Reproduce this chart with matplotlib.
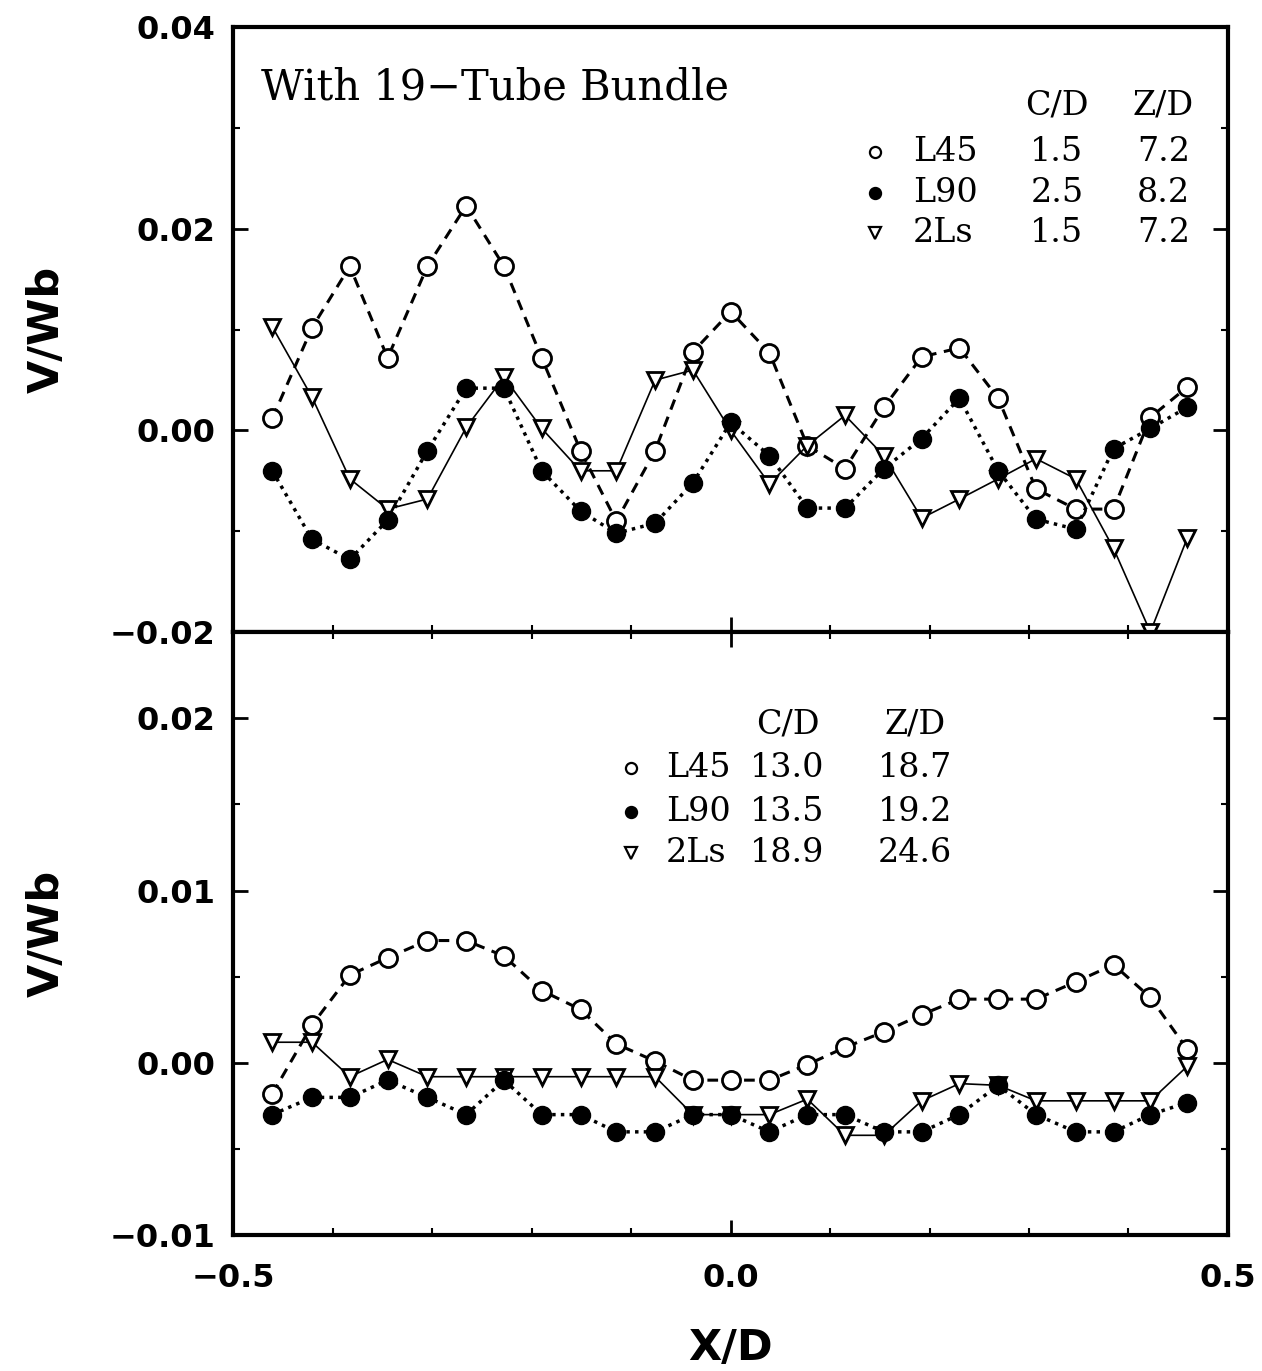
import matplotlib
matplotlib.use('Agg')
import matplotlib.pyplot as plt
from matplotlib.ticker import MultipleLocator, FuncFormatter

# x positions (X/D) shared by both panels
x_d = [-0.461, -0.421, -0.383, -0.345, -0.305, -0.266, -0.228, -0.19, -0.151, -0.115,
       -0.076, -0.038, 0.0, 0.039, 0.077, 0.115, 0.154, 0.192, 0.230, 0.269,
       0.307, 0.347, 0.385, 0.422, 0.459]

# top panel: with 19-tube bundle
l45_top = [0.0012, 0.0102, 0.0163, 0.0072, 0.0163, 0.0223, 0.0163, 0.0072, -0.002, -0.009,
           -0.002, 0.0078, 0.0118, 0.0077, -0.0015, -0.0038, 0.0023, 0.0073, 0.0082, 0.0032,
           -0.0058, -0.0078, -0.0078, 0.0013, 0.0043]
l90_top = [-0.004, -0.0108, -0.0128, -0.0089, -0.002, 0.0042, 0.0042, -0.004, -0.008, -0.0102,
           -0.0092, -0.0052, 0.0008, -0.0025, -0.0077, -0.0077, -0.0038, -0.0008, 0.0032, -0.004,
           -0.0088, -0.0098, -0.0018, 0.0002, 0.0023]
tls_top = [0.0103, 0.0033, -0.0048, -0.0078, -0.0068, 0.0003, 0.0053, 0.0002, -0.004, -0.004,
           0.005, 0.006, 0.0, -0.0053, -0.0015, 0.0015, -0.0025, -0.0087, -0.0068, -0.0048,
           -0.0028, -0.0048, -0.0117, -0.020, -0.0107]

# bottom panel
l45_bot = [-0.0018, 0.0022, 0.0051, 0.0061, 0.0071, 0.0071, 0.0062, 0.0042, 0.0031, 0.0011,
           0.0001, -0.001, -0.001, -0.001, -0.0001, 0.0009, 0.0018, 0.0028, 0.0037, 0.0037,
           0.0037, 0.0047, 0.0057, 0.0038, 0.0008]
l90_bot = [-0.003, -0.002, -0.002, -0.001, -0.002, -0.003, -0.001, -0.003, -0.003, -0.004,
           -0.004, -0.003, -0.003, -0.004, -0.003, -0.003, -0.004, -0.004, -0.003, -0.0013,
           -0.003, -0.004, -0.004, -0.003, -0.0023]
tls_bot = [0.0012, 0.0012, -0.0008, 0.0002, -0.0008, -0.0008, -0.0008, -0.0008, -0.0008, -0.0008,
           -0.0008, -0.003, -0.003, -0.003, -0.0021, -0.0042, -0.0042, -0.0022, -0.0012, -0.0013,
           -0.0022, -0.0022, -0.0022, -0.0022, -0.0002]

series_names = ['L45', 'L90', '2Ls']
cd_top = ['1.5', '2.5', '1.5']
zd_top = ['7.2', '8.2', '7.2']
cd_bot = ['13.0', '13.5', '18.9']
zd_bot = ['18.7', '19.2', '24.6']

serif = 'DejaVu Serif'
tick_font = dict(family='DejaVu Sans', weight='bold', size=23)
leg_size = 24


def fmt_with_minus(fmt):
    # long minus like the original plot labels
    return FuncFormatter(lambda v, pos: (fmt % v).replace('-', '\u2212'))


def draw_series(ax, l45, l90, tls):
    ax.plot(x_d, l45, ls=(0, (3.5, 2.5)), lw=2.2, color='black', marker='o', ms=13,
            mfc='white', mec='black', mew=2.0, clip_on=False, zorder=3)
    ax.plot(x_d, tls, ls='-', lw=1.2, color='black', marker='v', ms=11.5,
            mfc='white', mec='black', mew=2.0, clip_on=False, zorder=4)
    ax.plot(x_d, l90, ls=(0, (1, 1.5)), lw=2.5, color='black', marker='o', ms=13,
            mfc='black', mec='black', clip_on=False, zorder=5)


def style_axis(ax, major, minor, fmt):
    ax.set_xlim(-0.5, 0.5)
    ax.yaxis.set_major_locator(MultipleLocator(major))
    ax.yaxis.set_minor_locator(MultipleLocator(minor))
    ax.yaxis.set_major_formatter(fmt_with_minus(fmt))
    ax.xaxis.set_major_locator(MultipleLocator(0.5))
    ax.xaxis.set_minor_locator(MultipleLocator(0.1))
    ax.xaxis.set_major_formatter(fmt_with_minus('%.1f'))
    for s in ax.spines.values():
        s.set_linewidth(3)
    ax.tick_params(which='major', direction='in', length=11, width=2)
    ax.tick_params(which='minor', direction='in', length=5, width=1.5)
    ax.tick_params(axis='y', which='both', left=True, right=True, pad=13)
    ax.tick_params(axis='x', pad=20)
    for lab in ax.get_yticklabels() + ax.get_xticklabels():
        lab.set_fontfamily(tick_font['family'])
        lab.set_fontweight(tick_font['weight'])
        lab.set_fontsize(tick_font['size'])


def table_legend(ax, x_mark, x_name, x_cd, x_zd, y_head, y_rows, cds, zds):
    ax.text(x_cd, y_head, 'C/D', transform=ax.transAxes, ha='center', va='center',
            family=serif, fontsize=leg_size)
    ax.text(x_zd, y_head, 'Z/D', transform=ax.transAxes, ha='center', va='center',
            family=serif, fontsize=leg_size)
    marks = [('o', 'white'), ('o', 'black'), ('v', 'white')]
    for i, y in enumerate(y_rows):
        m, fc = marks[i]
        ax.plot([x_mark], [y], marker=m, ms=8, mfc=fc, mec='black', mew=1.6,
                transform=ax.transAxes, clip_on=False)
        ax.text(x_name, y, series_names[i], transform=ax.transAxes, ha='left', va='center',
                family=serif, fontsize=leg_size)
        ax.text(x_cd, y, cds[i], transform=ax.transAxes, ha='center', va='center',
                family=serif, fontsize=leg_size)
        ax.text(x_zd, y, zds[i], transform=ax.transAxes, ha='center', va='center',
                family=serif, fontsize=leg_size)


fig = plt.figure(figsize=(12.62, 13.71), dpi=100)
ax1 = fig.add_axes([0.185, 0.539, 0.788, 0.441])
ax2 = fig.add_axes([0.185, 0.099, 0.788, 0.440])

# top panel
draw_series(ax1, l45_top, l90_top, tls_top)
ax1.set_ylim(-0.02, 0.04)
style_axis(ax1, 0.02, 0.01, '%.2f')
ax1.tick_params(axis='x', which='both', labelbottom=False, top=False)
ax1.text(0.028, 0.9, 'With 19\u2212Tube Bundle', transform=ax1.transAxes, ha='left',
         va='center', family=serif, fontsize=30)
table_legend(ax1, 0.645, 0.683, 0.828, 0.935, 0.871, [0.794, 0.726, 0.660], cd_top, zd_top)
ax1.set_ylabel('V/Wb', fontsize=31, fontweight='bold', labelpad=30)

# bottom panel
draw_series(ax2, l45_bot, l90_bot, tls_bot)
ax2.set_ylim(-0.01, 0.025)
style_axis(ax2, 0.01, 0.005, '%.2f')
ax2.tick_params(axis='x', which='both', top=True)
table_legend(ax2, 0.400, 0.435, 0.557, 0.685, 0.846, [0.774, 0.701, 0.633], cd_bot, zd_bot)
ax2.set_ylabel('V/Wb', fontsize=31, fontweight='bold', labelpad=30)
ax2.set_xlabel('X/D', fontsize=31, fontweight='bold', labelpad=24)

fig.align_ylabels([ax1, ax2])
fig.savefig('out.png', dpi=100, facecolor='white')
